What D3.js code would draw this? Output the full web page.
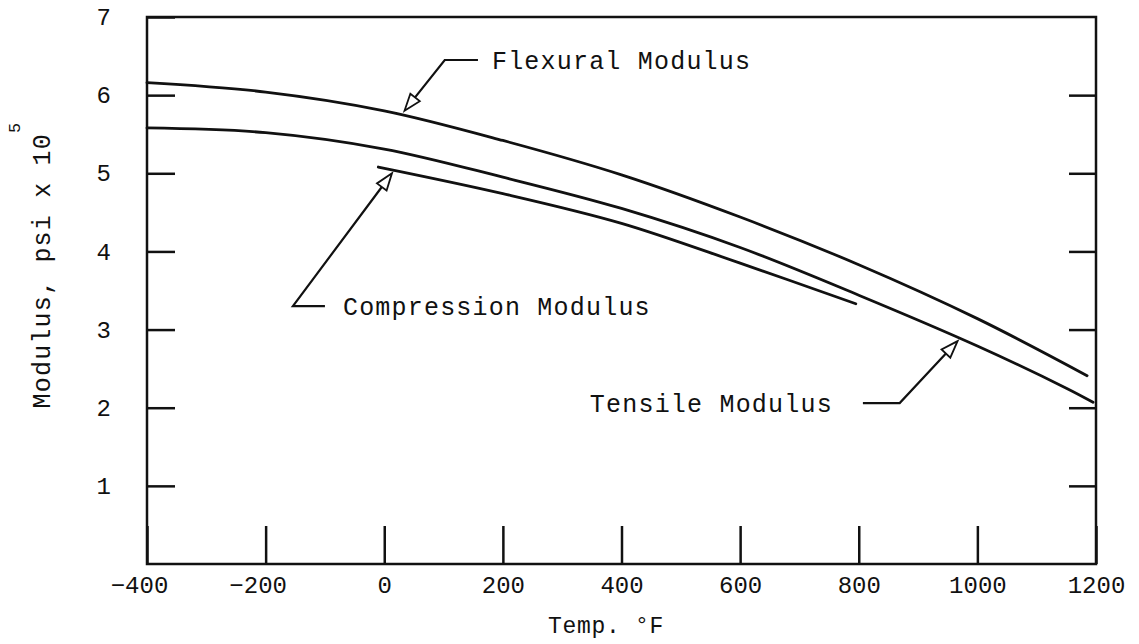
<!DOCTYPE html>
<html>
<head>
<meta charset="utf-8">
<script src="https://cdn.jsdelivr.net/npm/d3@7"></script>
<style>
  body { margin: 0; background: #fff; }
  svg text { font-family: "Courier New", "Nimbus Mono PS", "FreeMono", "Liberation Mono", monospace; fill: #111; }
  .axis path.domain { display: none; }
  .axis line { stroke: #111; stroke-width: 2.5; }
</style>
</head>
<body>
<svg id="chart"></svg>
<script>
// temperature (°F) / modulus (psi x 10^5)
const flexTemp = [-400, -200, 0, 200, 400, 600, 800, 1000, 1185];
const flexMod  = [6.16, 6.04, 5.80, 5.42, 4.98, 4.44, 3.83, 3.14, 2.41];
const tensTemp = [-400, -200, 0, 200, 400, 600, 800, 1000, 1150, 1195];
const tensMod  = [5.58, 5.52, 5.31, 4.95, 4.55, 4.05, 3.44, 2.79, 2.25, 2.07];
const compTemp = [-10, 200, 400, 600, 795];
const compMod  = [5.08, 4.74, 4.36, 3.85, 3.33];

const xTicks = [-400, -200, 0, 200, 400, 600, 800, 1000, 1200];
const yTicks = [1, 2, 3, 4, 5, 6, 7];

// callouts: arrow tip on curve, elbow, end of leader, label
const callouts = [
  {label: 'Flexural Modulus',    tip: [31, 5.77],  elbow: [102, 6.45],  end: [158, 6.45], side: 'right', gap: 14},
  {label: 'Compression Modulus', tip: [16, 5.03],  elbow: [-154, 3.30], end: [-100, 3.30], side: 'right', gap: 18},
  {label: 'Tensile Modulus',     tip: [970, 2.88], elbow: [869, 2.06],  end: [807, 2.06], side: 'left', gap: 30}
];

const W = 1139, H = 644;
const svg = d3.select('#chart').attr('width', W).attr('height', H);

const x = d3.scaleLinear().domain([-400, 1200]).range([147, 1096]);
const y = d3.scaleLinear().domain([0, 7]).range([564, 17]);

// axes: ticks point inward
svg.append('g')
    .attr('class', 'axis')
    .attr('transform', `translate(${x(-400)},0)`)
    .call(d3.axisLeft(y).tickValues(yTicks).tickFormat(d3.format('d'))
        .tickSizeInner(-28).tickSizeOuter(0).tickPadding(36))
    .call(g => g.selectAll('text').style('font-size', '24px'));

svg.append('g')
    .attr('class', 'axis')
    .attr('transform', `translate(${x(1200)},0)`)
    .call(d3.axisRight(y).tickValues(yTicks.slice(0, 6)).tickSizeInner(-27).tickSizeOuter(0).tickFormat(''));

svg.append('g')
    .attr('class', 'axis')
    .attr('transform', `translate(0,${y(0)})`)
    .call(d3.axisBottom(x).tickValues(xTicks).tickFormat(d3.format('d'))
        .tickSizeInner(-38).tickSizeOuter(0).tickPadding(12))
    .call(g => g.selectAll('text')
        .style('font-size', '24px')
        .attr('dx', d => d < 0 ? -8 : 0));

// frame
svg.append('rect')
    .attr('x', x(-400)).attr('y', y(7))
    .attr('width', x(1200) - x(-400)).attr('height', y(0) - y(7))
    .attr('fill', 'none').attr('stroke', '#111').attr('stroke-width', 2.5);

// curves
const line = d3.line()
    .x(d => x(d[0]))
    .y(d => y(d[1]))
    .curve(d3.curveCatmullRom.alpha(0.5));

[[flexTemp, flexMod], [tensTemp, tensMod], [compTemp, compMod]].forEach(([t, v]) => {
    svg.append('path')
        .datum(t.map((d, i) => [d, v[i]]))
        .attr('d', line)
        .attr('fill', 'none')
        .attr('stroke', '#111')
        .attr('stroke-width', 2.8)
        .attr('stroke-linecap', 'round');
});

// callouts with hollow arrowheads
callouts.forEach(c => {
    const tip = [x(c.tip[0]), y(c.tip[1])];
    const elb = [x(c.elbow[0]), y(c.elbow[1])];
    const end = [x(c.end[0]), y(c.end[1])];
    const dx = elb[0] - tip[0], dy = elb[1] - tip[1];
    const len = Math.hypot(dx, dy);
    const u = [dx / len, dy / len], n = [-u[1], u[0]];
    const p = [tip[0] + u[0] * 3, tip[1] + u[1] * 3];
    const b = [tip[0] + u[0] * 20, tip[1] + u[1] * 20];

    svg.append('path')
        .attr('d', `M${b[0]},${b[1]}L${elb[0]},${elb[1]}L${end[0]},${end[1]}`)
        .attr('fill', 'none').attr('stroke', '#111').attr('stroke-width', 2.2);

    svg.append('path')
        .attr('d', `M${p[0]},${p[1]}L${b[0] + n[0] * 6},${b[1] + n[1] * 6}L${b[0] - n[0] * 6},${b[1] - n[1] * 6}Z`)
        .attr('fill', '#fff').attr('stroke', '#111').attr('stroke-width', 1.8);

    svg.append('text')
        .attr('x', c.side === 'right' ? end[0] + c.gap : end[0] - c.gap)
        .attr('y', end[1])
        .attr('dy', '0.35em')
        .attr('text-anchor', c.side === 'right' ? 'start' : 'end')
        .style('font-size', '25px')
        .style('letter-spacing', '1.2px')
        .text(c.label);
});

// axis titles
svg.append('text')
    .attr('x', 606).attr('y', 633)
    .attr('text-anchor', 'middle')
    .style('font-size', '23px')
    .style('letter-spacing', '0.7px')
    .text('Temp.  °F');

const yt = svg.append('text')
    .attr('transform', 'translate(50,265) rotate(-90)')
    .attr('text-anchor', 'middle')
    .style('font-size', '25px')
    .style('letter-spacing', '1.2px');
yt.append('tspan').text('Modulus, psi x 10');
yt.append('tspan').attr('dy', -30).style('font-size', '17px').text('5');
</script>
</body>
</html>
